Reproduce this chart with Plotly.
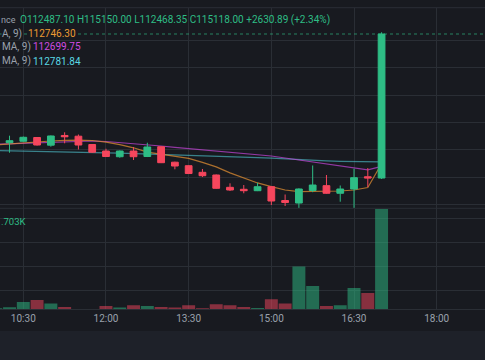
import plotly.graph_objects as go

# ---------------- data ----------------
day = "2025-08-22 "
times = ["10:00", "10:15", "10:30", "10:45", "11:00", "11:15", "11:30", "11:45",
         "12:00", "12:15", "12:30", "12:45", "13:00", "13:15", "13:30", "13:45",
         "14:00", "14:15", "14:30", "14:45", "15:00", "15:15", "15:30", "15:45",
         "16:00", "16:15", "16:30", "16:45", "17:00"]
opens = [112990, 113132, 113158, 113227, 113087, 113264, 113251, 113099,
         112980, 112876, 112980, 112880, 113059, 112776, 112712, 112591,
         112542, 112317, 112281, 112255, 112328, 112076, 112030, 112259,
         112347, 112208, 112286, 112510, 112487.10]
highs = [113150, 113260, 113245, 113236, 113264, 113322, 113282, 113108,
         113022, 112990, 113054, 113132, 113068, 112785, 112720, 112652,
         112551, 112390, 112359, 112401, 112337, 112186, 112299, 112716,
         112542, 112350, 112657, 112670, 115150.00]
lows = [112975, 112949, 113145, 113080, 113059, 113121, 113008, 112944,
        112870, 112858, 112816, 112870, 112760, 112646, 112560, 112505,
        112290, 112250, 112208, 112248, 111994, 111975, 111935, 112228,
        112200, 112054, 111939, 112323, 112468.35]
closes = [113136, 113169, 113231, 113090, 113255, 113240, 113090, 112959,
          112880, 112980, 112876, 113054, 112767, 112706, 112569, 112529,
          112299, 112268, 112255, 112328, 112067, 112040, 112286, 112359,
          112208, 112286, 112493, 112487.11, 115118.00]
volumes = [17, 34, 124, 158, 97, 39, 7, 6, 56, 29, 68, 56, 39, 29, 68, 17,
           85, 68, 39, 22, 170, 97, 725, 396, 56, 68, 362, 277, 1703]
ma_orange = [113090, 113110, 113135, 113150, 113163, 113175, 113181, 113172,
             113143, 113096, 113039, 112960, 112920, 112878, 112847, 112772,
             112690, 112580, 112489, 112397, 112331, 112268, 112237, 112237,
             112241, 112250, 112268, 112314, 112746.30]
ma_magenta = [113103, 113112, 113123, 113134, 113143, 113150, 113158, 113163,
              113154, 113136, 113118, 113094, 113072, 113048, 113026, 113004,
              112981, 112959, 112944, 112917, 112889, 112853, 112816, 112780,
              112743, 112707, 112670, 112637, 112699.75]
ma_cyan = [112990, 112986, 112982, 112979, 112973, 112968, 112962, 112955,
           112948, 112940, 112933, 112926, 112918, 112911, 112904, 112896,
           112887, 112878, 112869, 112860, 112849, 112834, 112820, 112809,
           112800, 112792, 112787, 112783, 112781.84]
price_grid = [112000, 112500, 113000, 113500, 114000, 114500, 115000]
time_ticks = ["10:30", "12:00", "13:30", "15:00", "16:30", "18:00"]

# ---------------- style ----------------
W, H = 485, 360
BG = "#181a20"
BAND = "#1e2129"
GRID = "#2a2e35"
TXT = "#9aa1ac"
GREEN = "#2ebd85"
RED = "#f6465d"
FONT = "Roboto"

xs = [day + t for t in times]
vol_colors = ["rgba(46,189,133,0.5)" if c >= o else "rgba(246,70,93,0.5)"
              for o, c in zip(opens, closes)]

def py(px):  # pixel row -> paper y
    return 1 - px / H

def pxx(px):
    return px / W

price_range = [111939.1, 115593.1]
vol_range = [0, 1720]

fig = go.Figure()

# MA lines (base price subplot, drawn beneath candles)
for vals, col in [(ma_cyan, "rgba(80,200,212,0.6)"),
                  (ma_magenta, "rgba(200,70,220,0.7)"),
                  (ma_orange, "rgba(222,140,50,0.75)")]:
    fig.add_trace(go.Scatter(x=xs, y=vals, mode="lines", xaxis="x2", yaxis="y2",
                             line=dict(color=col, width=1.2), hoverinfo="skip"))

fig.add_trace(go.Candlestick(
    x=xs, open=opens, high=highs, low=lows, close=closes,
    xaxis="x2", yaxis="y3", whiskerwidth=0,
    increasing=dict(line=dict(color=GREEN, width=1), fillcolor=GREEN),
    decreasing=dict(line=dict(color=RED, width=1), fillcolor=RED),
    hoverinfo="skip"))

fig.add_trace(go.Bar(x=xs, y=volumes, xaxis="x", yaxis="y",
                     marker=dict(color=vol_colors, line=dict(width=0)),
                     hoverinfo="skip"))

tick_vals = [day + t for t in time_ticks]

fig.update_layout(
    width=W, height=H, margin=dict(l=0, r=0, t=0, b=0),
    paper_bgcolor=BG, plot_bgcolor=BG, showlegend=False, hovermode=False,
    bargap=0.06,
    font=dict(family=FONT, size=10, color=TXT),
    xaxis=dict(domain=[0, 1], anchor="y", type="date",
               range=["2025-08-22 10:04:38", "2025-08-22 18:52:35"],
               tickvals=tick_vals, ticktext=time_ticks,
               showgrid=True, gridcolor=GRID, gridwidth=1,
               showline=True, linecolor=GRID, linewidth=1,
               ticks="", zeroline=False, tickfont=dict(size=10, color=TXT),
               rangeslider=dict(visible=False), fixedrange=True),
    xaxis2=dict(domain=[0, 1], anchor="y2", type="date", matches="x",
                tickvals=tick_vals, showticklabels=False,
                showgrid=True, gridcolor=GRID, gridwidth=1, ticks="",
                zeroline=False, rangeslider=dict(visible=False)),
    yaxis=dict(domain=[py(309.3), py(208)], anchor="x", range=vol_range,
               tick0=322.6, dtick=407.5, showticklabels=False,
               showgrid=True, gridcolor=GRID, zeroline=False, ticks="", fixedrange=True),
    yaxis2=dict(domain=[py(208), py(8)], anchor="x2", range=price_range,
                tickvals=price_grid, showticklabels=False,
                showgrid=True, gridcolor=GRID, zeroline=False, ticks=""),
    yaxis3=dict(overlaying="y2", anchor="x2", range=price_range,
                showgrid=False, showticklabels=False, zeroline=False, ticks=""),
)

shapes = [
    dict(type="rect", xref="paper", yref="paper", x0=0, x1=1, y0=0, y1=py(331),
         fillcolor=BAND, line=dict(width=0), layer="below"),
    dict(type="line", xref="paper", yref="paper", x0=0, x1=1, y0=py(7.7), y1=py(7.7),
         line=dict(color=GRID, width=1)),
    dict(type="line", xref="paper", yref="paper", x0=0, x1=1, y0=py(208.3), y1=py(208.3),
         line=dict(color=GRID, width=1)),
    dict(type="line", xref="paper", yref="y3", x0=0, x1=1,
         y0=closes[-1], y1=closes[-1],
         line=dict(color="rgba(46,189,133,0.65)", width=1, dash="dot")),
]
fig.update_layout(shapes=shapes)

chg = closes[-1] - closes[-2]
pct = chg / closes[-2] * 100
ohlc_txt = (f"O{opens[-1]:.2f} H{highs[-1]:.2f} L{lows[-1]:.2f} "
            f"C{closes[-1]:.2f} {chg:+.2f} ({pct:+.2f}%)")

def ann(text, x, y, anchor, color, bg=None, size=10):
    d = dict(text=text, xref="paper", yref="paper", x=pxx(x), y=py(y),
             xanchor=anchor, yanchor="middle", showarrow=False, borderpad=0,
             font=dict(family=FONT, size=size, color=color))
    if bg:
        d["bgcolor"] = bg
    return d

annotations = [
    ann("nce", 0.3, 20, "left", TXT, size=9),
    ann(ohlc_txt, 18.5, 20, "left", GREEN),
    ann("A, 9)", 1, 33.5, "left", TXT, BG),
    ann(f"{ma_orange[-1]:.2f}", 26.5, 33.5, "left", "#ec9a33", BG),
    ann("MA, 9)", 0.5, 47, "left", TXT),
    ann(f"{ma_magenta[-1]:.2f}", 31.5, 47, "left", "#cf4ce0"),
    ann("MA, 9)", 0.5, 61, "left", TXT),
    ann(f"{ma_cyan[-1]:.2f}", 31.5, 61, "left", "#5ad8e4"),
    ann(f".{int(round(volumes[-1])) % 1000:03d}K", 0.3, 221, "left", GREEN, size=9.5),
]
fig.update_layout(annotations=annotations)

fig.write_html("out.html",
               config={"displayModeBar": False, "staticPlot": True},
               post_script="document.body.style.margin='0';"
                           "document.body.style.overflow='hidden';"
                           "document.body.style.background='" + BG + "';")
